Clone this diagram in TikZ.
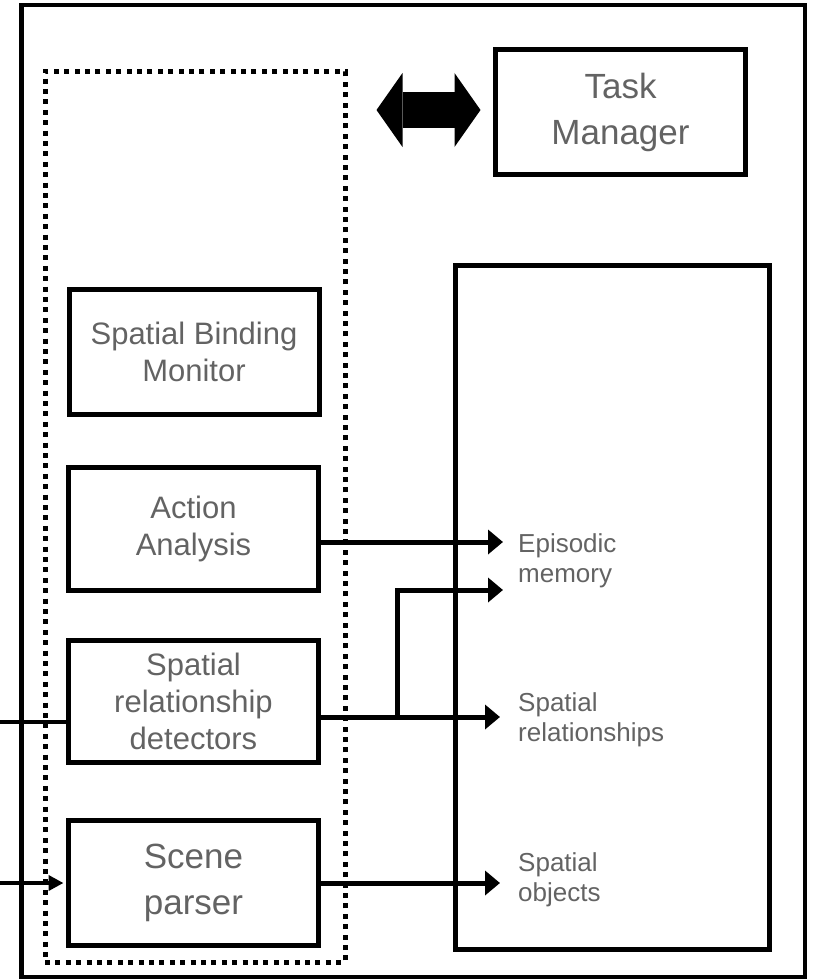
\documentclass[tikz,border=0pt]{standalone}
\usepackage{fontspec}
\setmainfont{Liberation Sans}
\usetikzlibrary{arrows.meta,calc}
\definecolor{labelgray}{HTML}{636363}

\begin{document}
\begin{tikzpicture}[x=1pt,y=-1pt,
  box/.style={draw, line width=5pt, inner sep=0pt, minimum width=250pt,
    minimum height=124pt, text=labelgray, align=center},
  bigfont/.style={font=\fontsize{35}{46}\selectfont},
  midfont/.style={font=\fontsize{31}{37}\selectfont},
  memlabel/.style={anchor=north west, inner sep=0pt, text=labelgray,
    align=left, font=\fontsize{26}{30}\selectfont},
  flow/.style={line width=5pt, -{Triangle[length=15pt,width=24pt]}},
  feed/.style={line width=4pt},
  bigtip/.tip={Triangle[length=26pt,width=74pt,line width=0pt]},
]
\useasboundingbox (0,0) rectangle (812,979);

% outer frame
\draw[line width=4.5pt] (21.5,5) rectangle (805,977);

% dotted group around the analysis modules
\node[draw, line width=5pt, dash pattern=on 5pt off 5.4pt,
      minimum width=300pt, minimum height=890.5pt, inner sep=0pt]
      (group) at (195,516.75) {};

% modules
\node[box, bigfont, minimum height=125pt] (task) at (620.5,112) {Task\\Manager};
\node[box, midfont, minimum height=125pt] (sbm) at (194,351.5) {Spatial Binding\\Monitor};
\node[box, midfont, minimum height=123pt] (aa) at (193.5,529) {Action\\Analysis};
\node[box, midfont, minimum height=122pt] (srd) at (193.5,701.5) {Spatial\\relationship\\detectors};
\node[box, bigfont, minimum height=124.5pt] (sp) at (193.5,883) {Scene\\parser};

% memory store
\node[draw, line width=5pt, minimum width=314pt, minimum height=683.5pt,
      inner sep=0pt] (mem) at (612,607.25) {};

% memory contents
\node[memlabel] (epi) at (518,533) {Episodic\\memory};
\node[memlabel] (rel) at (518,692) {Spatial\\relationships};
\node[memlabel] (obj) at (518,852) {Spatial\\objects};

% arrow end points in front of the labels
\coordinate (epA) at (503,542);
\coordinate (epB) at (503,590);
\coordinate (relT) at (500,717);
\coordinate (objT) at (500,883);
\coordinate (branch) at (397,717);

% flows into memory
\draw[flow] (aa.east |- epA) -- (epA);
\draw[flow] (srd.east |- relT) -- (relT);
\draw[flow] (branch) -- (branch |- epB) -- (epB);
\draw[flow] (sp.east |- objT) -- (objT);

% external inputs
\coordinate (inA) at (0,722);
\coordinate (inB) at (0,883);
\draw[feed] (inA) -- (srd.west |- inA);
\draw[feed, -{Triangle[length=15pt,width=15pt]}, shorten >=2.5pt] (inB) -- (sp.west |- inB);

% exchange with the task manager
\draw[line width=36pt, bigtip-bigtip]
  ($(task.west -| group.east)+(29,-2)$) -- ($(task.west)+(-12.5,-2)$);
\end{tikzpicture}
\end{document}
